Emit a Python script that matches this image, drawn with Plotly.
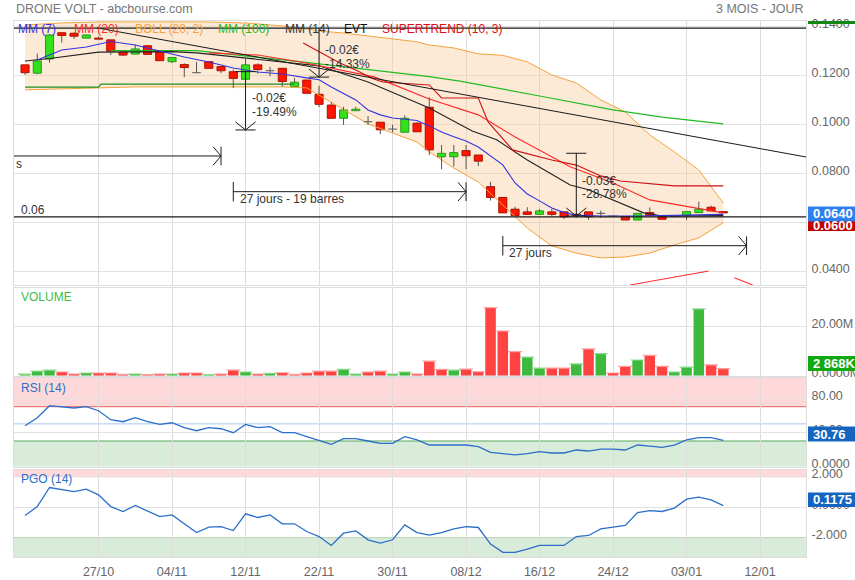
import plotly.graph_objects as go
from plotly.subplots import make_subplots

# ---------------- data ----------------
dates_tick_idx = [6, 12, 18, 24, 30, 36, 42, 48, 54, 60]
dates_tick_txt = ["27/10", "04/11", "12/11", "22/11", "30/11", "08/12", "16/12", "24/12", "03/01", "12/01"]

opens  = [0.1244,0.1210,0.1268,0.1375,0.1373,0.1353,0.1353,0.1346,0.1296,0.1288,
          0.1322,0.1298,0.1257,0.1245,0.1212,0.1257,0.1237,0.1216,0.1185,0.1244,
          0.1220,0.1230,0.1155,0.1182,0.1124,0.1080,0.1026,0.1057,0.1012,0.1010,
          0.0982,0.0969,0.1006,0.1071,0.0869,0.0869,0.0894,0.0876,0.0747,0.0703,
          0.0655,0.0644,0.0634,0.0644,0.0644,0.0634,0.0644,0.0638,0.0627,0.0625,
          0.0611,0.0641,0.0625,0.0625,0.0629,0.0641,0.0663,0.0645]
highs  = [0.1244,0.1290,0.1370,0.1378,0.1376,0.1368,0.1360,0.1346,0.1300,0.1327,
          0.1322,0.1303,0.1274,0.1250,0.1257,0.1257,0.1237,0.1225,0.1271,0.1250,
          0.1236,0.1230,0.1190,0.1182,0.1159,0.1092,0.1073,0.1073,0.1035,0.1010,
          0.1000,0.1038,0.1010,0.1112,0.0917,0.0917,0.0917,0.0876,0.0767,0.0703,
          0.0665,0.0663,0.0656,0.0656,0.0644,0.0640,0.0644,0.0649,0.0627,0.0625,
          0.0638,0.0662,0.0625,0.0625,0.0645,0.0686,0.0670,0.0645]
lows   = [0.1203,0.1206,0.1253,0.1335,0.1350,0.1353,0.1349,0.1284,0.1280,0.1288,
          0.1287,0.1261,0.1251,0.1194,0.1212,0.1230,0.1210,0.1149,0.1185,0.1208,
          0.1198,0.1155,0.1155,0.1128,0.1072,0.1026,0.0999,0.1057,0.0999,0.0961,
          0.0969,0.0969,0.0971,0.0876,0.0818,0.0829,0.0818,0.0831,0.0690,0.0640,
          0.0629,0.0634,0.0634,0.0624,0.0615,0.0620,0.0612,0.0620,0.0627,0.0611,
          0.0611,0.0629,0.0614,0.0625,0.0611,0.0641,0.0648,0.0640]
closes = [0.1212,0.1260,0.1366,0.1364,0.1361,0.1366,0.1349,0.1300,0.1284,0.1309,
          0.1287,0.1261,0.1274,0.1233,0.1212,0.1230,0.1220,0.1189,0.1244,0.1225,
          0.1220,0.1176,0.1173,0.1128,0.1083,0.1026,0.1060,0.1063,0.1012,0.0979,
          0.0982,0.1026,0.0971,0.0897,0.0883,0.0886,0.0873,0.0851,0.0703,0.0640,
          0.0629,0.0634,0.0648,0.0634,0.0624,0.0630,0.0624,0.0638,0.0627,0.0611,
          0.0638,0.0629,0.0614,0.0625,0.0645,0.0655,0.0648,0.0640]

volumes_m = [0.68,1.9,2.3,1.5,0.7,1.1,1.1,1.1,0.55,0.7,
             0.4,0.7,0.7,1.1,1.1,0.4,0.7,2.3,1.5,0.7,
             0.95,1.2,0.55,1.1,1.9,1.9,2.6,0.7,1.5,1.9,
             0.7,1.5,0.7,5.9,2.6,2.3,2.7,1.6,27.7,18.2,
             9.8,7.6,3.1,3.1,3.1,4.8,10.9,9.0,1.1,3.8,
             6.4,8.3,3.8,1.5,3.5,27.2,4.4,2.868]
volume_up = [1,1,1,0,0,1,0,0,0,1,
             0,0,1,0,0,1,0,0,1,0,
             1,0,0,0,0,0,1,1,0,0,
             1,1,0,0,0,1,0,0,0,0,
             0,1,1,0,0,1,0,1,0,0,
             1,0,0,1,1,1,0,0]

rsi = [47.8,57.2,71.2,70.0,68.5,70.0,65.3,54.8,52.5,57.2,
       52.5,49.4,51.3,45.5,42.0,45.5,44.3,39.7,49.4,45.5,
       46.7,39.7,39.7,35.0,30.3,26.1,32.7,32.7,30.0,27.3,
       27.3,35.0,31.2,25.3,25.3,25.3,25.3,23.3,16.8,15.2,
       13.7,15.2,17.5,16.0,16.0,19.5,18.3,20.6,20.6,19.5,
       25.3,24.1,22.6,25.3,31.2,33.9,33.9,30.76]

pgo = [-0.53,0.05,1.29,1.18,1.03,1.18,0.81,0.05,-0.27,0.12,
       -0.25,-0.60,-0.49,-1.07,-1.64,-1.29,-1.25,-1.51,-0.42,-0.66,
       -0.49,-1.07,-1.07,-1.57,-1.90,-2.48,-1.68,-1.53,-2.11,-2.32,
       -2.11,-1.14,-1.64,-1.80,-1.64,-1.40,-1.25,-1.31,-2.39,-2.93,
       -2.93,-2.71,-2.48,-2.48,-2.48,-1.90,-1.83,-1.40,-1.31,-1.18,
       -0.34,-0.21,-0.27,-0.05,0.53,0.66,0.49,0.1175]

# indicator lines: (bar index, value)
mm7_x = [1,3,5,7,9,11,13,15,17,19,21,23,24,25,26,27,28,29,30,31,32,33,34,35,36,37,38,39,40,41,42,43,44,45,46,47,50,54,57]
mm7_y = [0.1264,0.1305,0.1317,0.1339,0.1325,0.1301,0.1276,0.1256,0.1231,0.1215,0.1207,0.1191,0.1183,0.1154,0.1129,0.1101,
         0.1060,0.1040,0.1027,0.1021,0.1017,0.0995,0.0970,0.0951,0.0933,0.0909,0.0872,0.0836,0.0762,0.0717,0.0689,0.0660,
         0.0641,0.0631,0.0629,0.0627,0.0627,0.0630,0.0634]
mm14_x = [0,2,6,12,14,19,24,28,33,36.5,38.5,41,44.5,46,48,50.5,52,57]
mm14_y = [0.1260,0.1270,0.1296,0.1298,0.1293,0.1267,0.1240,0.1174,0.1068,0.0974,0.0938,0.0856,0.0754,0.0734,0.0693,0.0640,0.0627,0.0629]
mm20_x = [15,19,22.5,28.5,33,37,40,42,44.5,48,51,57]
mm20_y = [0.1293,0.1284,0.1256,0.1195,0.1105,0.1040,0.0950,0.0897,0.0828,0.0762,0.0693,0.0640]
mm100_x = [7,14,22.4,33,35.5,39,42,48,52,57]
mm100_y = [0.1302,0.1302,0.1257,0.1196,0.1178,0.1146,0.1117,0.1060,0.1031,0.1003]
st_x = [22.7,25.7,27,28.4,29.2,33,34,37,37.8,39.8,43,45,47,48.6,53,57]
st_y = [0.1333,0.1252,0.1223,0.1187,0.1174,0.1162,0.1109,0.1109,0.1011,0.0897,0.0856,0.0835,0.0791,0.0770,0.0750,0.0750]
boll_x = [0,3,6,9,12,15,18,21,23,24,26,28,30,32,33,35,37,39,41,43,45,47,49,51,53,55,57]
boll_up = [0.1407,0.1415,0.1419,0.1419,0.1419,0.1419,0.1415,0.1403,0.1391,0.1382,0.1374,0.1362,0.1350,0.1338,0.1325,
           0.1313,0.1289,0.1283,0.1256,0.1203,0.1170,0.1101,0.1052,0.0958,0.0889,0.0815,0.0680]
boll_lo = [0.1142,0.1146,0.1150,0.1154,0.1154,0.1154,0.1154,0.1154,0.1150,0.1121,0.1060,0.1003,0.0966,0.0929,0.0889,
           0.0823,0.0766,0.0672,0.0578,0.0505,0.0476,0.0456,0.0460,0.0476,0.0509,0.0538,0.0600]
green_line_x = [0, 6, 6.2, 22]
green_line_y = [0.1153, 0.1153, 0.1165, 0.1165]
red_seg1_x = [49.4, 55.8]; red_seg1_y = [0.0346, 0.0403]
red_seg2_x = [57.9, 59.4]; red_seg2_y = [0.03755, 0.0346]

# drawing tools
top_line = 0.1394
support_line = 0.0624
trend_x = [5.88, 63.76]; trend_y = [0.1395, 0.0868]
vmeasures = [  # (bar, top price, bottom price, label1, label2, text x, text y1, text y2, top bar)
    (18.0, 0.12163, 0.09784, "-0.02€", "-19.49%", 18.37, 0.1110, 0.10531, True),
    (24.0, 0.1394, 0.1194, "-0.02€", "-14.33%", 24.33, 0.13049, 0.12478, False),
    (45.0, 0.08833, 0.06273, "-0.03€", "-28.78%", 45.3, 0.07714, 0.07159, True),
]
hmeasures = [  # (start bar, end bar, price, label, text x, text y)
    (-3.0, 16.0, 0.08722, "", 0, 0),
    (17.0, 36.0, 0.07265, "27 jours - 19 barres", 17.39, 0.06967),
    (39.0, 58.9, 0.05061, "27 jours", 39.35, 0.04776),
]

# ---------------- layout geometry ----------------
W, H = 855, 580
ML, MR, MT, MB = 14, 49, 21, 23
PW, PH = W - ML - MR, H - MT - MB

def px(xp):
    return (xp - ML) / PW

def py(yp):
    return (H - MB - yp) / PH

FONT = "Liberation Sans, Arial, sans-serif"

fig = make_subplots(rows=4, cols=1, shared_xaxes=True, vertical_spacing=0.0)

n = len(opens)
idx = list(range(n))

shapes = []

# Bollinger band: fill as a shape drawn between the grid and the traces, edges as lines
band_pts = list(zip(boll_x, boll_up)) + list(zip(boll_x[::-1], boll_lo[::-1]))
band_path = "M " + " L ".join(f"{x},{y}" for x, y in band_pts) + " Z"
shapes.append(dict(type="path", xref="x", yref="y", path=band_path, fillcolor="rgba(249,206,160,0.42)",
                   line=dict(width=0), layer="between"))
fig.add_trace(go.Scatter(x=boll_x, y=boll_up, mode="lines", line=dict(color="#f5a23c", width=1)), 1, 1)
fig.add_trace(go.Scatter(x=boll_x, y=boll_lo, mode="lines", line=dict(color="#f5a23c", width=1)), 1, 1)

# lines
fig.add_trace(go.Scatter(x=green_line_x, y=green_line_y, mode="lines", line=dict(color="#1f8f1f", width=1.2)), 1, 1)
fig.add_trace(go.Scatter(x=mm100_x, y=mm100_y, mode="lines", line=dict(color="#22bb22", width=1.2)), 1, 1)
fig.add_trace(go.Scatter(x=mm14_x, y=mm14_y, mode="lines", line=dict(color="#222222", width=1.1)), 1, 1)
fig.add_trace(go.Scatter(x=mm20_x, y=mm20_y, mode="lines", line=dict(color="#ff2a2a", width=1.1)), 1, 1)
fig.add_trace(go.Scatter(x=st_x, y=st_y, mode="lines", line=dict(color="#cc1111", width=1.1)), 1, 1)
fig.add_trace(go.Scatter(x=mm7_x, y=mm7_y, mode="lines", line=dict(color="#3333dd", width=1.1)), 1, 1)
fig.add_trace(go.Scatter(x=red_seg1_x, y=red_seg1_y, mode="lines", line=dict(color="#ff2a2a", width=1.1)), 1, 1)
fig.add_trace(go.Scatter(x=red_seg2_x, y=red_seg2_y, mode="lines", line=dict(color="#ff2a2a", width=1.1)), 1, 1)

# wicks and dojis
wx, wy = [], []
for i in idx:
    top = max(opens[i], closes[i]); bot = min(opens[i], closes[i])
    wx += [i, i, None, i, i, None]
    wy += [highs[i], top, None, bot, lows[i], None]
    if opens[i] == closes[i]:
        wx += [i - 0.35, i + 0.35, None]
        wy += [opens[i], opens[i], None]
fig.add_trace(go.Scatter(x=wx, y=wy, mode="lines", line=dict(color="#555555", width=1)), 1, 1)

# candle bodies
bx, bbase, bh, bcol, blc = [], [], [], [], []
for i in idx:
    if opens[i] == closes[i]:
        continue
    bx.append(i)
    bbase.append(min(opens[i], closes[i]))
    bh.append(abs(closes[i] - opens[i]))
    up = closes[i] > opens[i]
    bcol.append("#33e01a" if up else "#ff1500")
    blc.append("#2a9a1a" if up else "#a81000")
fig.add_trace(go.Bar(x=bx, y=bh, base=bbase, width=0.66,
                     marker=dict(color=bcol, line=dict(color=blc, width=1))), 1, 1)

# volume
vcol = ["#3dba3d" if u else "#ff4242" for u in volume_up]
vtop = ["#8fdc8f" if u else "#ffa0a0" for u in volume_up]
fig.add_trace(go.Bar(x=idx, y=[v * 1e6 for v in volumes_m], width=0.86,
                     marker=dict(color=vcol, line=dict(width=0))), 2, 1)
fig.add_trace(go.Scatter(x=idx, y=[v * 1e6 for v in volumes_m], mode="markers",
                         marker=dict(symbol="line-ew", size=10, color=vtop, line=dict(color=vtop, width=1.2))), 2, 1)

# RSI / PGO
fig.add_trace(go.Scatter(x=idx, y=rsi, mode="lines", line=dict(color="#2a6fc9", width=1.3)), 3, 1)
fig.add_trace(go.Scatter(x=idx, y=pgo, mode="lines", line=dict(color="#2a6fc9", width=1.3)), 4, 1)

def hband(xa, ya, y0, y1, color):
    shapes.append(dict(type="rect", xref=f"{xa} domain", yref=ya, x0=0, x1=1, y0=y0, y1=y1,
                       fillcolor=color, line=dict(width=0), layer="below"))
def hline(xa, ya, y, color, width=1, layer="below"):
    shapes.append(dict(type="line", xref=f"{xa} domain", yref=ya, x0=0, x1=1, y0=y, y1=y,
                       line=dict(color=color, width=width), layer=layer))

RSI_TOP, PGO_TOP, PGO_BOT = 103.5, 2.43, -3.23
hband("x3", "y3", 70, RSI_TOP, "#ffd9d9")
hband("x3", "y3", 0, 30, "#d9ebd9")
hline("x3", "y3", 70, "#e86060")
hline("x3", "y3", 50, "#a8c8f0")
hline("x3", "y3", 30, "#5aa85a")
hband("x4", "y4", 2, PGO_TOP, "#ffd9d9")
hband("x4", "y4", PGO_BOT, -2, "#d9ebd9")
hline("x4", "y4", 2, "#e86060")
hline("x4", "y4", -2, "#5aa85a")

# drawings on main chart
DC = "#1a1a1a"
def seg(x0, y0, x1, y1, w=1):
    shapes.append(dict(type="line", xref="x", yref="y", x0=x0, y0=y0, x1=x1, y1=y1,
                       line=dict(color=DC, width=w), layer="above"))
hline("x", "y", top_line, DC, 1.2, "above")
hline("x", "y", support_line, DC, 1.2, "above")
seg(trend_x[0], trend_y[0], trend_x[1], trend_y[1])

HX, HY = 0.65, 0.0038   # horizontal arrow head size
VX, VY = 0.82, 0.0033   # vertical arrow head size
annots = []
def txt(x, y, s, color="#333333", size=12, xref="x", yref="y", xanchor="left", yanchor="middle"):
    annots.append(dict(x=x, y=y, xref=xref, yref=yref, text=s, showarrow=False, xanchor=xanchor,
                       yanchor=yanchor, font=dict(family=FONT, size=size, color=color)))

for (b, yt, yb, l1, l2, tx, ty1, ty2, tb) in vmeasures:
    seg(b, yt, b, yb)
    if tb:
        seg(b - VX, yt, b + VX, yt)
    seg(b - VX, yb + VY, b, yb)
    seg(b, yb, b + VX, yb + VY)
    seg(b - VX, yb, b + VX, yb)
    txt(tx, ty1, l1)
    txt(tx, ty2, l2)

for (xs, xe, yv, lab, tx, ty) in hmeasures:
    seg(xs, yv, xe, yv)
    seg(xs, yv - HY * 1.05, xs, yv + HY * 1.05)
    seg(xe - HX, yv + HY, xe, yv)
    seg(xe, yv, xe - HX, yv - HY)
    seg(xe, yv - HY, xe, yv + HY)
    if lab:
        txt(tx, ty, lab)

txt(px(14), 0.08396, "s", xref="paper")
txt(px(19), 0.06518, "0.06", xref="paper")

# headers / legends
txt(px(14), py(9), "DRONE VOLT - abcbourse.com", color="#777777", size=12.5, xref="paper", yref="paper")
txt(px(806), py(9), "3 MOIS - JOUR", color="#777777", size=12.5, xref="paper", yref="paper", xanchor="right")
legend_items = [("MM (7)", 16, "#3333dd"), ("MM (20)", 72, "#ff2a2a"), ("BOLL (20, 2)", 133, "#f5a23c"),
                ("MM (100)", 216, "#22bb22"), ("MM (14)", 283, "#333333"), ("EVT", 342, "#111111"),
                ("SUPERTREND (10, 3)", 380, "#dd1111")]
for (s, xp, c) in legend_items:
    txt(px(xp), py(29), s, color=c, xref="paper", yref="paper")
txt(px(19), py(297), "VOLUME", color="#44bb44", xref="paper", yref="paper")
txt(px(19), py(388), "RSI (14)", color="#2a6fc9", xref="paper", yref="paper")
txt(px(19), py(479), "PGO (14)", color="#2a6fc9", xref="paper", yref="paper")

# value boxes on the right
def vbox(y0p, y1p, color, label):
    shapes.append(dict(type="rect", xref="paper", yref="paper", x0=px(808), x1=px(855), y0=py(y1p), y1=py(y0p),
                       fillcolor=color, line=dict(width=0), layer="above"))
    if label:
        annots.append(dict(x=px(811), y=py((y0p + y1p) / 2), xref="paper", yref="paper", text=f"<b>{label}</b>",
                           showarrow=False, xanchor="left", yanchor="middle",
                           font=dict(family=FONT, size=13, color="white")))
vbox(21, 24, "#118811", "")
vbox(219, 231, "#c40000", "0.0600")
vbox(206.5, 221.5, "#2f80ee", "0.0640")
vbox(356, 371, "#11a811", "2 868K")
vbox(426.5, 441.5, "#1565c0", "30.76")
vbox(492.5, 507, "#1565c0", "0.1175")

fig.update_layout(
    width=W, height=H, margin=dict(l=ML, r=MR, t=MT, b=MB, autoexpand=False),
    paper_bgcolor="white", plot_bgcolor="white", showlegend=False, barmode="overlay",
    font=dict(family=FONT, size=12, color="#666666"),
    shapes=shapes, annotations=annots, hovermode=False,
)

domains = [[py(285), 1.0], [py(375.7), py(288)], [py(466.7), py(378)], [0.0, py(470)]]
yranges = [[0.03457, 0.1423], [0, 35.7e6], [0, RSI_TOP], [PGO_BOT, PGO_TOP]]
ytv = [[0.04, 0.06, 0.08, 0.10, 0.12, 0.14], [0, 20e6], [0, 40, 80], [-2, 0, 2]]
ytt = [["0.0400", "0.0600", "0.0800", "0.1000", "0.1200", "0.1400"], ["0.0000M", "20.00M"],
       ["0.0000", "40.00", "80.00"], ["-2.000", "0.0000", "2.000"]]
for r in range(4):
    yk = "yaxis" if r == 0 else f"yaxis{r+1}"
    xk = "xaxis" if r == 0 else f"xaxis{r+1}"
    fig.layout[yk].update(domain=domains[r], range=yranges[r], side="right", tickvals=ytv[r], ticktext=ytt[r],
                          showgrid=True, gridcolor="#e2e2e2", zeroline=False, showline=True, linecolor="#dddddd",
                          mirror=True, ticks="", tickfont=dict(size=12.5, color="#666666"), fixedrange=True,
                          automargin=False, ticklabelshift=-3, ticklabelstandoff=2)
    fig.layout[xk].update(range=[-0.9, 63.75], tickvals=dates_tick_idx, ticktext=dates_tick_txt, showgrid=True,
                          gridcolor="#dddddd", zeroline=False, showline=True, linecolor="#dddddd", mirror=True,
                          ticks="", tickfont=dict(size=12.5, color="#666666"), showticklabels=(r == 3),
                          automargin=False, ticklabelstandoff=3, fixedrange=True)

fig.write_html("out.html", config={"displayModeBar": False, "staticPlot": True},
               post_script="document.body.style.margin='0px';document.body.style.overflow='hidden';")
